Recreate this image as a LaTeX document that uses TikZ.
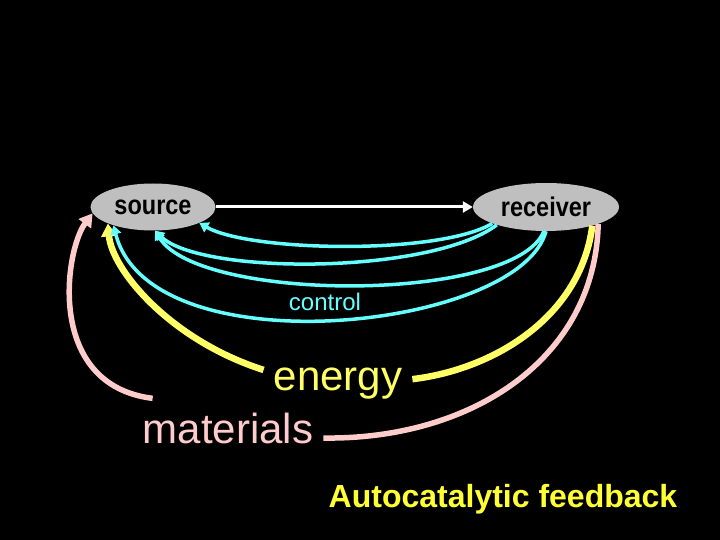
\documentclass[tikz,border=0pt]{standalone}
\usepackage{fontspec}
\setmainfont{Liberation Sans}
\usetikzlibrary{arrows.meta,shapes.geometric}
\definecolor{ctrlcyan}{RGB}{102,255,255}
\definecolor{engyellow}{RGB}{255,255,102}
\definecolor{matpink}{RGB}{255,204,204}
\definecolor{autoyellow}{RGB}{255,255,51}
\begin{document}
\begin{tikzpicture}[
x=1pt, y=-1pt,
blob/.style = {ellipse, fill=gray!50, inner sep=0pt, font=\fontsize{23.5}{26}\selectfont\bfseries},
word/.style = {fill=black, inner xsep=10pt, inner ysep=4pt, font=\fontsize{42}{48}\selectfont},
ctrl/.style = {draw=ctrlcyan, line width=3.5pt, -{Triangle[length=9pt,width=11pt]}},
engy/.style = {draw=engyellow, line width=6.5pt},
matl/.style = {draw=matpink, line width=5.5pt},
bigtip/.style = {-{Triangle[length=13pt,width=15pt]}}
                        ]
%background
\fill[black] (0,0) rectangle (720,540);
%

% the two ends
\node[blob, minimum width=125pt, minimum height=47pt] (source) at (153,207) {\scalebox{1}[1.15]{source}};
\node[blob, minimum width=146pt, minimum height=48pt] (receiver) at (546,207) {\scalebox{1}[1.15]{receiver}};
\draw[white, line width=3pt, -{Triangle[length=10pt,width=11pt]}] (source) -- (receiver);

% labels on the loops
\node[word, text=engyellow, anchor=base] (energy) at (338,390) {energy};
\node[word, text=matpink, anchor=base] (materials) at (228,443) {materials};

% energy loop
\draw[engy] (receiver.-22) .. controls (580,320) and (490,370) .. (energy.3);
\draw[engy, bigtip] (energy.170) .. controls (170,340) and (112,270) .. (source.-160);

% materials loop
\draw[matl] (receiver.-18) .. controls (595,360) and (470,440) .. (materials.-6);
\draw[matl, bigtip] ([shift={(20,-10)}]materials.north west) .. controls (45,385) and (65,250) .. (source.186);

% control loops
\draw[ctrl] (receiver.-163) .. controls (440,255) and (250,252) .. (source.-19);
\draw[ctrl] (receiver.-160) .. controls (430,275) and (200,275) .. (source.-85);
\draw[ctrl] (receiver.-95) .. controls (515,303) and (200,303) .. (source.-85);
\draw[ctrl] (receiver.-90) .. controls (520,330) and (150,370) .. (source.-155);

\node[fill=black, inner sep=3pt, text=ctrlcyan, anchor=base, font=\fontsize{24}{28}\selectfont] (control) at (325,310) {control};

% caption
\node[anchor=base, text=autoyellow, font=\fontsize{32}{38}\selectfont\bfseries] (caption) at (503,507) {Autocatalytic feedback};

\end{tikzpicture}
\end{document}
